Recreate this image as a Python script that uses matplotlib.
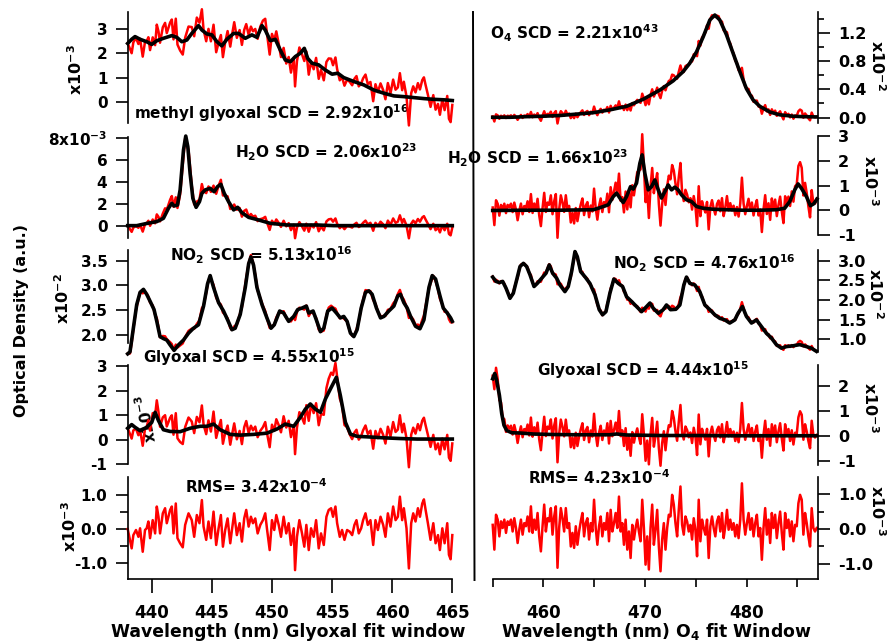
import numpy as np
import matplotlib
matplotlib.use("Agg")
import matplotlib.pyplot as plt
from matplotlib.lines import Line2D

FONT = "DejaVu Sans"
plt.rcParams.update({
    "font.family": [FONT],
    "font.weight": "bold",
    "mathtext.fontset": "custom",
    "mathtext.rm": FONT + ":bold",
    "mathtext.it": FONT + ":bold",
    "mathtext.bf": FONT + ":bold",
    "mathtext.sf": FONT + ":bold",
    "mathtext.default": "rm",
    "axes.unicode_minus": False,
})

# ------------------------------------------------------------------ data
# ---- Glyoxal fit window (left column), wavelengths in nm
# residual (x1e-3)
resL_wl = [438.00,438.19,438.33,438.47,438.69,438.89,439.03,439.25,439.44,439.58,
           439.72,439.86,440.08,440.28,440.42,440.56,440.69,440.92,441.11,441.25,
           441.53,441.67,441.81,442.00,442.14,442.36,442.58,442.78,443.06,443.33,
           443.53,443.75,443.97,444.17,444.31,444.53,444.72,444.92,445.14,445.36,
           445.56,445.75,445.92,446.11,446.31,446.53,446.67,446.86,447.08,447.31,
           447.50,447.69,447.86,448.06,448.25,448.42,448.61,448.81,449.03,449.25,
           449.44,449.58,449.81,450.00,450.19,450.36,450.56,450.75,450.97,451.19,
           451.39,451.58,451.81,451.92,452.08,452.28,452.50,452.69,452.86,453.06,
           453.25,453.47,453.67,453.89,454.08,454.31,454.53,454.72,454.92,455.08,
           455.28,455.42,455.64,455.83,456.03,456.25,456.47,456.67,456.86,457.03,
           457.22,457.42,457.58,457.78,457.97,458.19,458.42,458.61,458.81,459.03,
           459.25,459.44,459.64,459.86,460.08,460.28,460.47,460.64,460.83,460.97,
           461.19,461.39,461.58,461.75,461.94,462.14,462.31,462.50,462.64,462.78,
           462.97,463.19,463.42,463.61,463.81,463.97,464.17,464.36,464.58,464.72,
           464.86,465.00]
resL = [0.00,-0.32,-0.57,-0.18,-0.03,-0.23,0.02,-0.67,-0.03,0.02,
        0.22,-0.27,0.26,-0.13,0.66,0.36,-0.13,0.46,0.61,0.17,
        0.56,0.66,-0.13,0.75,-0.27,-0.42,-0.54,0.12,0.46,0.26,
        -0.23,0.41,0.17,0.85,0.07,-0.32,0.22,-0.27,0.51,-0.47,
        0.02,0.41,-0.52,-0.03,0.31,-0.42,-0.03,0.46,-0.18,0.17,
        -0.37,0.31,0.56,0.07,0.36,0.17,0.31,-0.13,0.12,0.26,
        0.46,0.02,-0.62,0.26,-0.03,0.41,0.12,-0.23,0.36,-0.13,
        0.17,-0.47,0.02,-1.21,-0.23,0.26,-0.13,-0.52,0.12,-0.62,
        0.02,-0.23,0.26,-0.57,-0.13,-0.47,0.36,0.56,0.61,0.36,
        0.66,0.17,-0.23,-0.03,-0.32,-0.03,-0.08,-0.18,0.12,0.26,
        -0.13,0.02,0.26,0.46,0.12,0.26,-0.47,0.26,-0.03,0.36,
        0.12,-0.23,0.46,0.07,0.66,0.26,0.36,0.95,0.26,0.61,
        0.02,-1.16,0.17,0.46,0.22,0.61,0.36,0.75,0.87,0.56,
        0.17,-0.32,0.17,-0.42,-0.18,-0.62,0.02,-0.42,0.17,-0.76,
        -0.89,-0.18]

# methyl glyoxal fit (x1e-3)
mgly_wl = [438.00,438.33,438.61,439.03,439.58,440.00,440.42,440.97,441.67,442.08,
           442.50,442.92,443.33,443.89,444.17,444.58,445.00,445.42,445.83,446.25,
           446.81,447.22,447.78,448.33,448.75,449.17,449.44,449.86,450.28,450.69,
           451.11,451.53,451.94,452.36,452.69,452.97,453.33,453.89,454.44,455.00,
           455.47,455.97,456.81,457.64,458.47,459.31,460.14,460.97,461.81,462.64,
           463.47,464.31,465.00]
mgly_fit = [2.41,2.58,2.69,2.58,2.48,2.37,2.52,2.62,2.73,2.66,
            2.48,2.55,2.82,3.14,2.96,2.80,2.76,2.48,2.31,2.58,
            2.82,2.82,2.62,2.76,2.66,3.14,2.96,2.52,2.58,2.14,
            1.73,1.66,1.87,2.01,2.21,1.80,1.60,1.53,1.32,1.15,
            1.19,1.01,0.85,0.71,0.50,0.37,0.26,0.23,0.19,0.15,
            0.12,0.10,0.07]

# H2O fit, glyoxal window (x1e-3)
h2oL_wl = [438.00,438.75,439.58,440.42,440.97,441.39,441.67,441.86,442.14,442.36,
           442.64,442.83,443.00,443.19,443.42,443.69,443.97,444.17,444.44,444.86,
           445.19,445.47,445.75,446.03,446.39,446.81,447.14,447.50,448.06,448.89,
           449.86,451.25,452.36,453.75,455.14,457.92,460.69,463.47,465.00]
h2oL_fit = [0.00,0.00,0.20,0.37,0.67,1.59,2.05,1.80,1.89,3.27,
            6.93,8.21,7.24,4.79,2.50,1.68,2.20,2.96,3.27,3.42,
            3.11,3.57,3.79,2.96,2.20,1.44,1.68,1.19,0.76,0.52,
            0.21,0.06,0.06,0.06,0.00,0.00,0.00,0.00,0.00]

# NO2 fit, glyoxal window (x1e-2)
no2L_wl = [438.00,438.19,438.47,438.75,439.03,439.31,439.58,439.92,440.19,440.42,
           440.69,440.97,441.25,441.53,441.86,442.22,442.64,443.06,443.47,443.89,
           444.31,444.64,444.86,445.14,445.56,445.97,446.31,446.67,446.94,447.36,
           447.78,448.06,448.25,448.47,448.75,449.17,449.58,449.92,450.19,450.64,
           450.97,451.39,451.81,452.14,452.50,452.86,453.06,453.42,453.69,454.03,
           454.31,454.64,455.00,455.36,455.69,455.97,456.25,456.53,456.81,457.08,
           457.42,457.78,458.06,458.33,458.69,459.03,459.31,459.72,460.14,460.47,
           460.69,460.97,461.25,461.53,461.94,462.31,462.64,463.06,463.33,463.61,
           463.97,464.25,464.58,464.86,465.00]
no2L_fit = [1.61,1.65,2.13,2.61,2.86,2.92,2.82,2.65,2.51,2.27,
            1.96,1.92,1.89,1.79,1.68,1.79,1.89,2.03,2.13,2.20,
            2.58,3.03,3.20,2.96,2.65,2.48,2.30,2.10,2.13,2.41,
            2.96,3.44,3.58,3.41,2.96,2.61,2.34,2.13,2.20,2.48,
            2.44,2.27,2.37,2.51,2.54,2.58,2.44,2.48,2.30,2.06,
            2.13,2.48,2.54,2.44,2.34,2.37,2.27,2.03,1.96,2.10,
            2.54,2.86,2.89,2.82,2.54,2.34,2.37,2.48,2.58,2.79,
            2.82,2.65,2.54,2.37,2.17,2.12,2.30,2.96,3.20,3.13,
            2.79,2.54,2.44,2.34,2.27]

# Glyoxal fit, glyoxal window (x1e-3)
glyL_wl = [438.00,438.33,438.61,439.03,439.58,440.00,440.28,440.56,440.97,441.53,
           442.36,443.19,444.03,444.58,445.14,445.69,446.53,447.36,448.47,449.58,
           450.42,451.11,451.81,452.36,452.78,453.19,453.61,454.03,454.44,454.86,
           455.36,455.69,456.11,456.53,457.08,457.92,459.31,460.69,462.08,463.47,
           465.00]
glyL_fit = [0.47,0.62,0.51,0.37,0.51,0.71,1.12,0.78,0.41,0.34,
            0.33,0.47,0.55,0.55,0.64,0.41,0.22,0.19,0.22,0.27,
            0.44,0.64,0.55,0.92,1.25,1.46,1.25,1.12,1.66,2.07,
            2.55,1.80,0.71,0.23,0.14,0.12,0.08,0.05,0.03,0.03,
            0.03]

# ---- O4 fit window (right column)
# residual (x1e-3), evenly sampled over the window
resR = [0.12,-0.59,0.41,0.27,-0.21,0.22,0.03,0.27,-0.11,0.22,
        0.12,0.27,-0.07,0.31,0.03,-0.40,-0.02,0.27,-0.16,0.17,
        0.08,0.36,-0.07,0.65,-0.11,0.27,-0.02,0.46,-0.21,-0.64,
        0.08,0.70,-0.07,0.31,0.22,0.60,-0.16,0.36,0.65,-1.11,
        0.03,0.60,0.31,-0.07,0.60,0.03,0.17,-0.50,-0.11,-0.54,
        0.08,-0.45,-0.07,0.22,0.46,-0.21,0.17,0.31,-0.30,0.17,
        -0.07,0.84,0.03,-0.45,0.08,0.36,-0.21,0.17,-0.02,0.46,
        -0.35,0.55,-0.07,0.17,0.46,0.03,0.93,-0.07,0.17,-0.45,
        0.27,-0.59,-0.07,-0.83,0.12,-0.30,0.03,0.27,-0.07,-0.35,
        0.84,0.03,-1.02,-0.21,-1.16,0.03,0.70,-0.45,-0.02,0.55,
        -0.50,-1.21,-0.30,0.17,-0.59,0.03,0.41,0.36,0.98,0.70,
        0.17,-0.21,0.55,1.22,0.12,-0.16,0.36,0.22,-0.07,0.12,
        -0.30,0.31,-0.02,-0.78,0.84,-0.35,0.27,0.03,-0.16,0.27,
        -0.83,0.08,0.36,0.03,-0.21,0.22,0.36,-0.07,0.46,-0.26,
        0.08,0.55,-0.02,0.27,-0.02,0.17,-0.21,0.12,-0.26,0.27,
        1.31,0.27,-0.16,0.17,0.46,-0.02,0.31,-0.21,0.17,0.41,
        -0.21,0.03,-0.88,0.03,0.60,-0.16,0.27,-0.40,0.46,0.03,
        0.41,-0.26,0.17,0.50,-0.11,-0.59,0.46,0.03,0.27,-0.21,
        0.22,-0.35,0.12,0.08,0.74,0.98,0.84,-0.16,0.46,0.17,
        -0.21,-0.50,0.60,0.03,-0.07,0.03]
resR_start, resR_stop = 455.0, 486.9

# O4 fit (x1e-2)
o4_wl = [455.00,456.70,458.34,459.98,461.62,463.26,464.90,466.54,468.18,469.82,
         471.46,472.77,473.75,474.41,475.07,475.72,476.38,476.87,477.36,478.02,
         478.67,479.33,479.98,480.64,481.30,482.28,483.26,484.57,485.56,486.87]
o4_fit = [0.005,0.005,0.014,0.02,0.03,0.05,0.07,0.11,0.16,0.26,
          0.39,0.52,0.65,0.77,0.93,1.14,1.38,1.45,1.38,1.17,
          0.91,0.65,0.41,0.25,0.16,0.08,0.04,0.02,0.014,0.01]

# H2O fit, O4 window (x1e-3)
h2oR_wl = [455.00,458.34,461.62,464.90,465.39,465.89,466.38,466.87,467.20,467.52,
           467.85,468.18,468.57,468.84,469.16,469.49,469.72,469.98,470.31,470.64,
           470.97,471.30,471.62,471.95,472.28,472.61,472.93,473.26,473.59,474.08,
           474.57,475.07,475.72,476.70,478.02,479.66,481.30,482.93,483.75,484.25,
           484.74,485.07,485.39,485.89,486.28,486.61,486.93]
h2oR_fit = [0.00,0.01,0.01,0.03,0.09,0.16,0.23,0.56,0.70,0.50,
            0.32,0.56,0.96,0.86,1.10,1.90,2.24,1.50,0.83,0.96,
            1.23,0.83,0.50,0.76,1.03,0.83,0.94,0.83,0.63,0.43,
            0.36,0.16,0.09,0.05,0.03,0.01,0.01,0.03,0.09,0.36,
            0.83,1.07,0.90,0.56,0.19,0.27,0.46]

# NO2 fit, O4 window (x1e-2)
no2R_wl = [455.00,455.33,455.66,455.98,456.31,456.70,457.03,457.36,457.69,458.02,
           458.34,458.67,459.07,459.39,459.82,460.25,460.57,460.90,461.30,461.62,
           462.11,462.44,462.77,463.10,463.33,463.66,464.08,464.57,465.07,465.49,
           465.82,466.15,466.54,466.93,467.36,467.79,468.18,468.67,469.16,469.66,
           470.15,470.48,470.80,471.30,471.79,472.11,472.51,473.03,473.43,473.82,
           474.08,474.41,474.90,475.39,475.89,476.38,476.87,477.36,477.85,478.34,
           478.84,479.16,479.59,479.98,480.48,480.97,481.46,481.95,482.44,482.93,
           483.43,483.92,484.57,485.23,485.89,486.38,486.87]
no2R_fit = [2.58,2.47,2.44,2.47,2.30,2.04,2.17,2.51,2.85,2.93,
            2.85,2.64,2.34,2.42,2.55,2.68,2.89,2.68,2.55,2.38,
            2.21,2.34,2.72,3.23,3.10,2.72,2.59,2.42,2.13,1.75,
            1.62,1.70,2.17,2.53,2.42,2.34,2.08,1.96,1.83,1.70,
            1.83,1.92,1.79,1.66,1.75,1.87,1.75,1.76,1.87,2.38,
            2.58,2.42,2.38,2.21,1.87,1.75,1.62,1.53,1.49,1.41,
            1.49,1.66,1.83,1.58,1.41,1.49,1.32,1.15,1.03,0.86,
            0.77,0.81,0.83,0.86,0.81,0.77,0.69]

# Glyoxal fit, O4 window (x1e-3)
glyR_wl = [455.00,455.20,455.39,455.66,455.89,456.11,456.38,456.87,457.69,459.00,
           460.97,463.26,466.54,467.20,468.18,471.46,474.74,478.02,481.30,484.57,
           486.87]
glyR_fit = [2.28,2.49,2.22,1.62,0.88,0.42,0.21,0.12,0.11,0.07,
            0.05,0.04,0.04,0.07,0.03,0.01,0.01,0.00,0.00,0.00,
            0.00]

# labels
left_labels = ["methyl glyoxal SCD = 2.92x10$^{16}$", "H$_2$O SCD = 2.06x10$^{23}$",
               "NO$_2$ SCD = 5.13x10$^{16}$", "Glyoxal SCD = 4.55x10$^{15}$",
               "RMS= 3.42x10$^{-4}$"]
right_labels = ["O$_4$ SCD = 2.21x10$^{43}$", "H$_2$O SCD = 1.66x10$^{23}$",
                "NO$_2$ SCD = 4.76x10$^{16}$", "Glyoxal SCD = 4.44x10$^{15}$",
                "RMS= 4.23x10$^{-4}$"]

# ------------------------------------------------------------------ figure
W, H = 896, 644
fig = plt.figure(figsize=(W / 100, H / 100), dpi=100)
RED = "#ff0000"


def add_ax(xr, yr):
    ax = fig.add_axes([xr[0] / W, 1 - yr[1] / H, (xr[1] - xr[0]) / W, (yr[1] - yr[0]) / H])
    ax.patch.set_visible(False)
    for s in ax.spines.values():
        s.set_visible(False)
        s.set_linewidth(1.2)
    return ax


def ftext(ax, x, y, s, size=11.0, ha="left", va="center", rot=0, z=1):
    ax.text(x / W, 1 - y / H, s, transform=fig.transFigure, fontsize=size,
            fontweight="bold", ha=ha, va=va, rotation=rot, zorder=z)


LX = (127.7, 452.3)
RX = (492.7, 817.7)
left_rows = [(11.7, 123.0), (136.7, 238.3), (250.0, 343.0), (365.0, 464.3), (477.3, 579.3)]
right_rows = [(11.7, 123.3), (136.0, 235.3), (250.0, 351.7), (365.0, 465.0), (476.7, 579.3)]
left_ylim = [(-0.85, 3.71), (-1.16, 8.15), (1.83, 3.72), (-1.0, 3.05), (-1.48, 1.52)]
right_ylim = [(-0.08, 1.497), (-1.0, 3.0), (0.68, 3.27), (-1.17, 2.83), (-1.44, 1.50)]
left_ticks = [[0, 1, 2, 3], [0, 2, 4, 6, 8], [2.0, 2.5, 3.0, 3.5], [-1, 0, 1, 2, 3], [-1.0, 0.0, 1.0]]
left_tlab = [["0", "1", "2", "3"], ["0", "2", "4", "6", "8x10$^{-3}$"],
             ["2.0", "2.5", "3.0", "3.5"], ["-1", "0", "1", "2", "3"], ["-1.0", "0.0", "1.0"]]
right_ticks = [[0.0, 0.4, 0.8, 1.2], [-1, 0, 1, 2, 3], [1.0, 1.5, 2.0, 2.5, 3.0], [-1, 0, 1, 2], [-1.0, 0.0, 1.0]]
right_tlab = [["0.0", "0.4", "0.8", "1.2"], ["-1", "0", "1", "2", "3"],
              ["1.0", "1.5", "2.0", "2.5", "3.0"], ["-1", "0", "1", "2"], ["-1.0", "0.0", "1.0"]]

resL_a = np.array(resL)
resR_a = np.array(resR)
resR_wl = np.linspace(resR_start, resR_stop, len(resR))

left_fits = [(mgly_wl, mgly_fit, 1.0), (h2oL_wl, h2oL_fit, 1.0), (no2L_wl, no2L_fit, 0.1),
             (glyL_wl, glyL_fit, 1.0), None]
right_fits = [(o4_wl, o4_fit, 0.1), (h2oR_wl, h2oR_fit, 1.0), (no2R_wl, no2R_fit, 0.1),
              (glyR_wl, glyR_fit, 1.0), None]

RED_LW, BLK_LW = 1.8, 2.6
axesL, axesR = [], []
for i in range(5):
    # ---------- left column
    ax = add_ax(LX, left_rows[i])
    ax.set_xlim(438, 465)
    ax.set_ylim(*left_ylim[i])
    ax.spines["left"].set_visible(True)
    ax.set_yticks(left_ticks[i])
    ax.set_yticklabels(left_tlab[i])
    ax.tick_params(axis="y", which="major", direction="out", length=8.6, width=1.2,
                   labelsize=11, pad=6)
    ax.tick_params(axis="y", which="minor", direction="out", length=6, width=1.2)
    fitL = left_fits[i]
    if fitL is None:
        ax.plot(resL_wl, resL_a, color=RED, lw=RED_LW, clip_on=False, zorder=2)
    else:
        fw, fv, sc = fitL
        red = np.interp(resL_wl, fw, fv) + sc * resL_a
        ax.plot(resL_wl, red, color=RED, lw=RED_LW, clip_on=False, zorder=2)
        ax.plot(fw, fv, color="black", lw=BLK_LW, clip_on=False, zorder=3)
    axesL.append(ax)

    # ---------- right column
    ax = add_ax(RX, right_rows[i])
    ax.set_xlim(455, 487)
    ax.set_ylim(*right_ylim[i])
    ax.spines["right"].set_visible(True)
    ax.yaxis.tick_right()
    ax.set_yticks(right_ticks[i])
    ax.set_yticklabels(right_tlab[i])
    ax.tick_params(axis="y", which="major", direction="out", length=8.6, width=1.2,
                   labelsize=11.5, pad=6)
    ax.tick_params(axis="y", which="minor", direction="out", length=4.5, width=1.2)
    fitR = right_fits[i]
    if fitR is None:
        ax.plot(resR_wl, resR_a, color=RED, lw=RED_LW, clip_on=False, zorder=2)
    else:
        fw, fv, sc = fitR
        red = np.interp(resR_wl, fw, fv) + sc * resR_a
        ax.plot(resR_wl, red, color=RED, lw=RED_LW, clip_on=False, zorder=2)
        ax.plot(fw, fv, color="black", lw=BLK_LW, clip_on=False, zorder=3)
    axesR.append(ax)

for ax in axesL[:4] + axesR[:4]:
    ax.set_xticks([])

axesR[0].set_yticks([0.2, 0.6, 1.0, 1.4], minor=True)
axesL[4].set_yticks([-0.5, 0.5], minor=True)
axesR[4].set_yticks([-0.5, 0.5], minor=True)

# bottom x axes
axL = axesL[4]
axL.spines["bottom"].set_visible(True)
axL.set_xticks([440, 445, 450, 455, 460, 465])
axL.set_xticklabels(["440", "445", "450", "455", "460", "465"])
axL.tick_params(axis="x", direction="out", length=10, width=1.2, labelsize=12, pad=8)

axR = axesR[4]
axR.spines["bottom"].set_visible(True)
axR.set_xticks([455, 460, 465, 470, 475, 480, 485])
axR.set_xticklabels(["", "460", "", "470", "", "480", ""])
axR.tick_params(axis="x", direction="out", length=5.5, width=1.2, labelsize=12, pad=12.5)

# ------------------------------------------------------------------ text
pos_left = [(134, 113), (235, 152), (170, 255), (143, 357), (185, 487)]
pos_right = [(490, 33), (447, 158), (613, 263), (537, 370), (528, 478)]
for i in range(5):
    ftext(axesL[i], pos_left[i][0], pos_left[i][1], left_labels[i])
    ftext(axesR[i], pos_right[i][0], pos_right[i][1], right_labels[i])

# axis multiplier labels
ftext(axesL[0], 76, 70, "x10$^{-3}$", size=11.5, ha="center", rot=90)
ftext(axesL[2], 63, 299, "x10$^{-2}$", size=11.5, ha="center", rot=90)
ftext(axesL[3], 147, 418, "x10$^{-3}$", size=11, ha="center", rot=100, z=1)
ftext(axesL[4], 70, 527, "x10$^{-3}$", size=11.5, ha="center", rot=90)
ftext(axesR[0], 877, 65, "x10$^{-2}$", size=11.5, ha="center", rot=-90)
ftext(axesR[1], 870, 180, "x10$^{-3}$", size=11.5, ha="center", rot=-90)
ftext(axesR[2], 875, 293, "x10$^{-2}$", size=11.5, ha="center", rot=-90)
ftext(axesR[3], 870, 407, "x10$^{-3}$", size=11.5, ha="center", rot=-90)
ftext(axesR[4], 877, 510, "x10$^{-3}$", size=11.5, ha="center", rot=-90)

fig.text(22 / W, 1 - 320 / H, "Optical Density (a.u.)", fontsize=11.5, fontweight="bold",
         rotation=90, ha="center", va="center")
fig.text(288 / W, 1 - 637 / H, "Wavelength (nm) Glyoxal fit window", fontsize=12.4,
         fontweight="bold", ha="center", va="baseline")
fig.text(656 / W, 1 - 637 / H, "Wavelength (nm) O$_4$ fit Window", fontsize=12.4,
         fontweight="bold", ha="center", va="baseline")

# separator line between windows
fig.add_artist(Line2D([473.0 / W, 474.5 / W], [1 - 12 / H, 1 - 580 / H],
                      color="black", lw=1.4, zorder=10))

fig.savefig("out.png", dpi=100)
